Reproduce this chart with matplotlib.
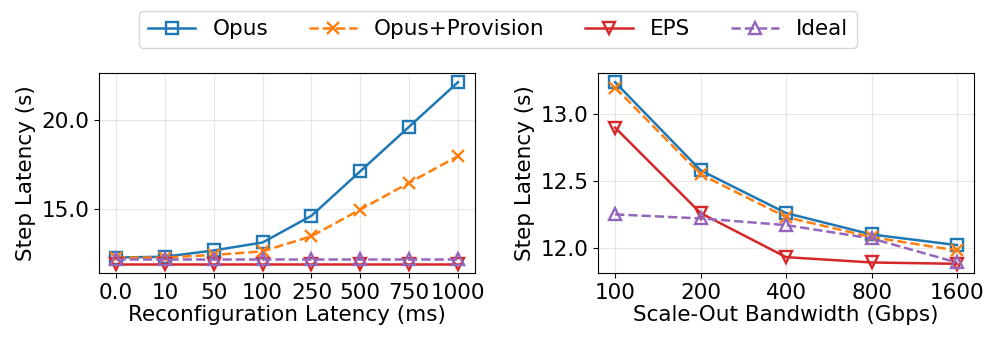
import numpy as np
import matplotlib
matplotlib.use("Agg")
import matplotlib.pyplot as plt

plt.rcParams['font.size'] = 15.5

# Left panel: reconfiguration latency sweep
reconf_labels = ['0.0', '10', '50', '100', '250', '500', '750', '1000']
left_opus = [12.25, 12.3, 12.65, 13.1, 14.6, 17.1, 19.6, 22.1]
left_prov = [12.25, 12.25, 12.4, 12.6, 13.45, 14.95, 16.45, 17.95]
left_eps = [11.9, 11.9, 11.9, 11.9, 11.9, 11.9, 11.9, 11.9]
left_ideal = [12.15, 12.15, 12.15, 12.15, 12.15, 12.15, 12.15, 12.15]

# Right panel: scale-out bandwidth sweep
bw_labels = ['100', '200', '400', '800', '1600']
right_opus = [13.24, 12.58, 12.26, 12.10, 12.02]
right_prov = [13.20, 12.55, 12.23, 12.08, 11.98]
right_eps = [12.90, 12.26, 11.93, 11.89, 11.88]
right_ideal = [12.25, 12.22, 12.17, 12.07, 11.89]

styles = {
    'Opus': dict(color='#1f77b4', linestyle='-', marker='s', mfc='none'),
    'Opus+Provision': dict(color='#ff7f0e', linestyle='--', marker='x'),
    'EPS': dict(color='#d62728', linestyle='-', marker='v', mfc='none'),
    'Ideal': dict(color='#9467bd', linestyle='--', marker='^', mfc='none'),
}

fig, (ax1, ax2) = plt.subplots(1, 2, figsize=(9.96, 3.45), dpi=100)

def draw(ax, labels, series):
    x = np.arange(len(labels))
    handles = []
    for name, vals in series:
        h, = ax.plot(x, vals, label=name, linewidth=1.8, markersize=8.5,
                     markeredgewidth=1.7, **styles[name])
        handles.append(h)
    ax.set_xticks(x)
    ax.set_xticklabels(labels)
    ax.grid(True, alpha=0.3)
    ax.set_ylabel('Step Latency (s)')
    return handles

handles = draw(ax1, reconf_labels, [('Opus', left_opus), ('Opus+Provision', left_prov),
                                    ('EPS', left_eps), ('Ideal', left_ideal)])
ax1.set_xlabel('Reconfiguration Latency (ms)', labelpad=2)
ax1.set_yticks([15.0, 20.0])
ax1.set_yticklabels(['15.0', '20.0'])

draw(ax2, bw_labels, [('Opus', right_opus), ('Opus+Provision', right_prov),
                      ('EPS', right_eps), ('Ideal', right_ideal)])
ax2.set_xlabel('Scale-Out Bandwidth (Gbps)', labelpad=2)
ax2.set_yticks([12.0, 12.5, 13.0])

fig.legend(handles=handles, loc='upper center', ncol=4, bbox_to_anchor=(0.5, 1.0),
           fontsize=15.5, handlelength=2.2, columnspacing=1.9)

fig.subplots_adjust(left=0.0994, right=0.978, top=0.788, bottom=0.209, wspace=0.327)
fig.savefig('out.png', dpi=100)
